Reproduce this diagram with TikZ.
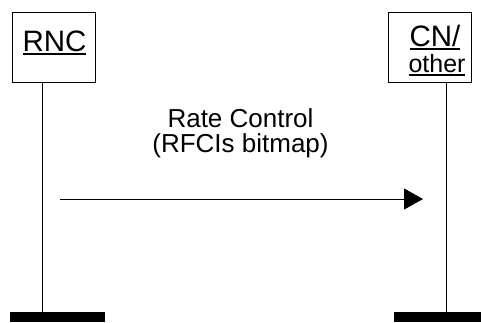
\documentclass[tikz,border=0pt]{standalone}
\usepackage{fontspec}
\setmainfont{Liberation Sans}
\usepackage{tikz}
\usetikzlibrary{arrows.meta}

\newcommand{\ulbox}[1]{\setbox0\hbox{#1}\rlap{\raisebox{-3.5pt}{\rule{\wd0}{2pt}}}\box0}

\begin{document}
\begin{tikzpicture}[x=1pt,y=-1pt]
\useasboundingbox (0,0) rectangle (481,322);
\tikzset{entity/.style={draw, line width=1pt, minimum width=83pt, minimum height=70pt, inner sep=0pt}}

\node[entity] (rnc) at (54,47) {};
\node[entity] (cn) at (429.5,47) {};
\node[anchor=base, font=\fontsize{29.5}{29.5}\selectfont] (rnctext) at (54.5,51) {\ulbox{RNC}};
\node[anchor=base, font=\fontsize{29.5}{29.5}\selectfont] (cntext) at (435,46) {\ulbox{CN/}};
\node[anchor=base, font=\fontsize{25}{25}\selectfont] (othertext) at (437,72) {\ulbox{other}};

% lifelines
\coordinate (rncend) at (42,312);
\coordinate (cnend) at (446,312);
\draw[line width=1pt] (rncend |- rnc.south) -- (rncend);
\draw[line width=1pt] (cnend |- cn.south) -- (cnend);
\fill (10,312) rectangle (105,322);
\fill (394,312) rectangle (481,322);

% message
\node[anchor=base, font=\fontsize{26}{26}\selectfont] (msgtop) at (240.5,127) {Rate Control};
\node[anchor=base, font=\fontsize{26}{26}\selectfont] (msgbot) at (240.5,152) {(RFCIs bitmap)};
\coordinate (msgstart) at (60,199);
\coordinate (msgend) at (423,199);
\draw[-{Triangle[length=19pt,width=21pt]}, line width=0.8pt] (msgstart) -- (msgend);

\end{tikzpicture}
\end{document}
